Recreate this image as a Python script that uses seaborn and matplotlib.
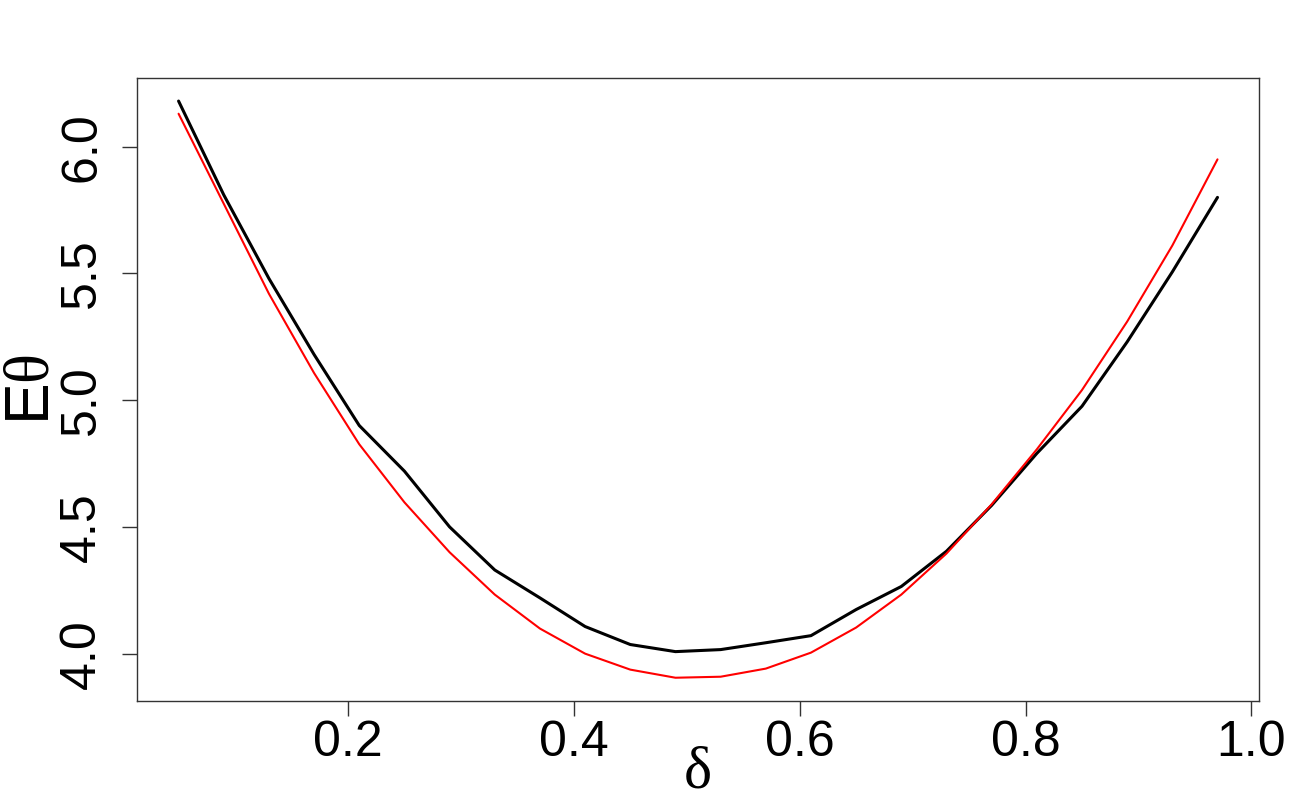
import matplotlib.pyplot as plt
import seaborn as sns
import pandas as pd
import numpy as np

# delta grid and the two curves
delta = [0.05, 0.09, 0.13, 0.17, 0.21, 0.25, 0.29, 0.33, 0.37, 0.41, 0.45, 0.49,
         0.53, 0.57, 0.61, 0.65, 0.69, 0.73, 0.77, 0.81, 0.85, 0.89, 0.93, 0.97]
black_vals = [6.18, 5.81, 5.48, 5.18, 4.90, 4.72, 4.50, 4.33, 4.22, 4.107, 4.036, 4.008,
              4.016, 4.043, 4.071, 4.174, 4.265, 4.404, 4.585, 4.79, 4.976, 5.23, 5.506, 5.80]
red_vals = [6.13, 5.775, 5.42, 5.107, 4.826, 4.597, 4.40, 4.233, 4.099, 4.00, 3.937, 3.905,
            3.909, 3.941, 4.004, 4.103, 4.233, 4.395, 4.589, 4.806, 5.04, 5.31, 5.61, 5.95]
xticks = [0.2, 0.4, 0.6, 0.8, 1.0]
yticks = [4.0, 4.5, 5.0, 5.5, 6.0]

df = pd.DataFrame({"delta": delta, "black": black_vals, "red": red_vals})

sns.set_theme(style="white")
plt.rcParams['font.family'] = ['Liberation Sans', 'DejaVu Sans']
plt.rcParams['mathtext.fontset'] = 'custom'
plt.rcParams['mathtext.rm'] = 'Liberation Serif'
plt.rcParams['mathtext.it'] = 'Liberation Serif:italic'
plt.rcParams['text.color'] = 'black'
plt.rcParams['axes.labelcolor'] = 'black'
plt.rcParams['xtick.color'] = 'black'
plt.rcParams['ytick.color'] = 'black'

fig = plt.figure(figsize=(13, 8), dpi=100)
ax = fig.add_axes([0.1054, 0.124, 0.8631, 0.7785])

sns.lineplot(data=df, x="delta", y="black", color="black", linewidth=2.2, ax=ax)
sns.lineplot(data=df, x="delta", y="red", color="red", linewidth=1.5, ax=ax)

# R-style 4% padding
xr = max(delta) - min(delta)
ax.set_xlim(min(delta) - 0.04 * xr, max(delta) + 0.04 * xr)
lo, hi = min(red_vals + black_vals), max(red_vals + black_vals)
yr = hi - lo
ax.set_ylim(lo - 0.04 * yr, hi + 0.04 * yr)

ax.set_xticks(xticks)
ax.set_xticklabels([f"{t:.1f}" for t in xticks], fontsize=36)
ax.set_yticks(yticks)
ax.set_yticklabels([f"{t:.1f}" for t in yticks], fontsize=36, rotation=90, va="center")

ax.tick_params(axis="both", direction="out", length=11, width=1, color="#333333",
               labelcolor="black", bottom=True, left=True, top=False, right=False, pad=3)
ax.tick_params(axis="y", pad=12)
for s in ax.spines.values():
    s.set_color("#333333")
    s.set_linewidth(1)

ax.set_xlabel("δ", fontsize=43, family=["Liberation Serif", "DejaVu Serif"], labelpad=-14)
ax.set_ylabel(r"E$\mathrm{\theta}$", fontsize=45, labelpad=-2)

plt.savefig("out.png", dpi=100)
